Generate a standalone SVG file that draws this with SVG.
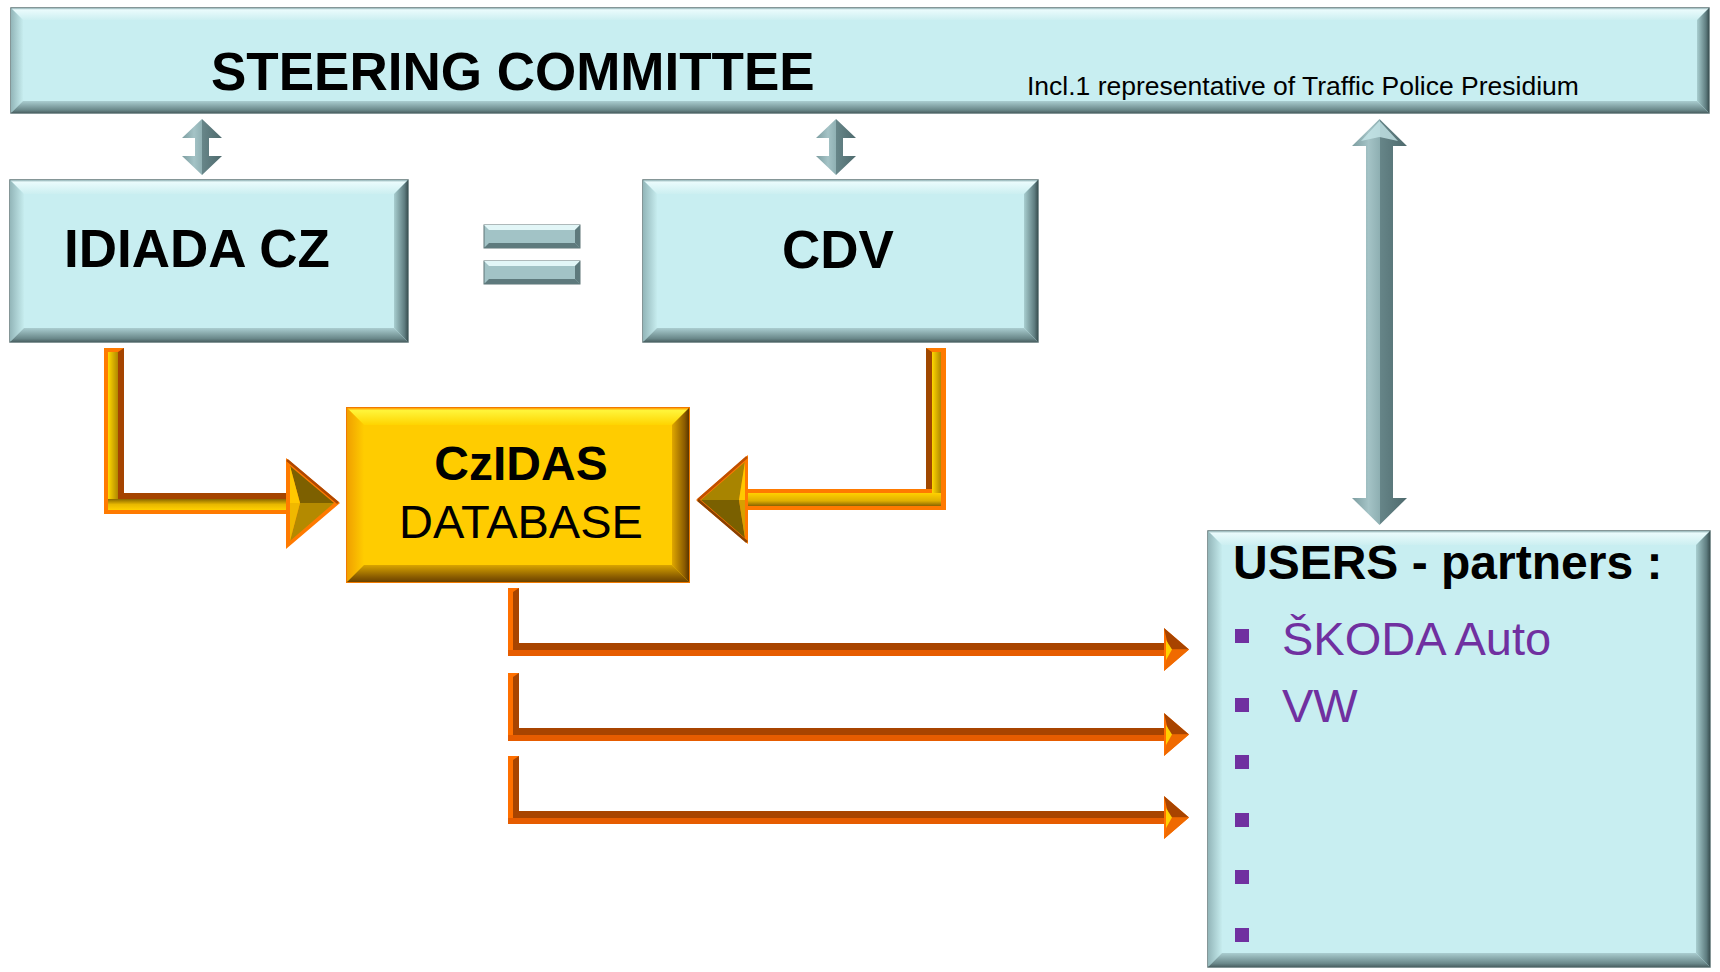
<svg xmlns="http://www.w3.org/2000/svg" xmlns:xlink="http://www.w3.org/1999/xlink" width="1720" height="972" viewBox="0 0 1720 972">
<style>
  .t { font-family: "Liberation Sans", Arial, sans-serif; fill: #000; }
  .b { font-weight: bold; }
  .purple { fill: #7030A0; }
  .cbase { fill: #C8EEF1; stroke: #5E7476; stroke-width: 1.5; }
  .ct { fill: url(#cyanTop); }
  .cl { fill: url(#cyanLeft); }
  .cr { fill: url(#cyanRight); }
  .cb { fill: url(#cyanBot); }
  .ybase { fill: #FFCC00; stroke: #F07A00; stroke-width: 2; }
  .yt { fill: url(#yTop); }
  .yl { fill: url(#yLeft); }
  .yr { fill: url(#yRight); }
  .yb { fill: url(#yBot); }
  .steel { fill: url(#steel); }
  .bul { fill: #7030A0; }
</style>
<defs>
  <linearGradient id="cyanTop" x1="0" y1="0" x2="0" y2="1">
    <stop offset="0" stop-color="#8FB0B3"/>
    <stop offset="0.15" stop-color="#EAFBFC"/>
    <stop offset="1" stop-color="#CCEFF1"/>
  </linearGradient>
  <linearGradient id="cyanLeft" x1="0" y1="0" x2="1" y2="0">
    <stop offset="0" stop-color="#93B6B9"/>
    <stop offset="1" stop-color="#C6ECEE"/>
  </linearGradient>
  <linearGradient id="cyanRight" x1="0" y1="0" x2="1" y2="0">
    <stop offset="0" stop-color="#A8CED0"/>
    <stop offset="0.75" stop-color="#5E7C7F"/>
    <stop offset="1" stop-color="#3A5052"/>
  </linearGradient>
  <linearGradient id="cyanBot" x1="0" y1="0" x2="0" y2="1">
    <stop offset="0" stop-color="#AACDD0"/>
    <stop offset="0.75" stop-color="#6A888A"/>
    <stop offset="1" stop-color="#4A6062"/>
  </linearGradient>
  <linearGradient id="yTop" x1="0" y1="0" x2="0" y2="1">
    <stop offset="0" stop-color="#FF9A00"/>
    <stop offset="0.15" stop-color="#FFF53A"/>
    <stop offset="1" stop-color="#FFD400"/>
  </linearGradient>
  <linearGradient id="yLeft" x1="0" y1="0" x2="1" y2="0">
    <stop offset="0" stop-color="#F0A000"/>
    <stop offset="1" stop-color="#FFCC00"/>
  </linearGradient>
  <linearGradient id="yRight" x1="0" y1="0" x2="1" y2="0">
    <stop offset="0" stop-color="#E0A800"/>
    <stop offset="0.75" stop-color="#8A5A00"/>
    <stop offset="1" stop-color="#5A3600"/>
  </linearGradient>
  <linearGradient id="yBot" x1="0" y1="0" x2="0" y2="1">
    <stop offset="0" stop-color="#D8A400"/>
    <stop offset="0.7" stop-color="#8A5C00"/>
    <stop offset="1" stop-color="#6A4200"/>
  </linearGradient>
  <linearGradient id="steel" x1="0" y1="0" x2="1" y2="0">
    <stop offset="0" stop-color="#7C9DA0"/>
    <stop offset="0.3" stop-color="#A4C3C6"/>
    <stop offset="0.5" stop-color="#8FB0B3"/>
    <stop offset="0.5" stop-color="#678689"/>
    <stop offset="1" stop-color="#4E6A6D"/>
  </linearGradient>
  <linearGradient id="goldV" x1="0" y1="0" x2="1" y2="0">
    <stop offset="0" stop-color="#FFD800"/>
    <stop offset="1" stop-color="#B08800"/>
  </linearGradient>
  <linearGradient id="goldH" x1="0" y1="0" x2="0" y2="1">
    <stop offset="0" stop-color="#8A6800"/>
    <stop offset="0.5" stop-color="#E8B800"/>
    <stop offset="1" stop-color="#FFD000"/>
  </linearGradient>
  <linearGradient id="goldH2" x1="0" y1="0" x2="0" y2="1">
    <stop offset="0" stop-color="#FFD000"/>
    <stop offset="0.6" stop-color="#E0B000"/>
    <stop offset="1" stop-color="#8A6400"/>
  </linearGradient>
  <g id="thinArrow">
    <polygon points="508,588 519,588 519,643 1164,643 1164,628 1189,649.5 1164,671 1164,656 508,656" fill="#FF7000"/>
    <polygon points="513,592 519,588 519,643 1164,643 1164,650 513,650" fill="#A84400"/>
    <rect x="508" y="650" width="656" height="6" fill="#E65C00"/>
    <polygon points="1164,628 1189,649.5 1169,649.5" fill="#A84400"/>
    <polygon points="1164,671 1189,649.5 1169,649.5" fill="#F06A00"/>
    <polygon points="1166,640 1172,649.5 1166,660" fill="#FFD000"/>
  </g>
</defs>

<!-- Connectors -->
<g id="connectors">
  <!-- small double arrow steering <-> IDIADA -->
  <polygon class="steel" points="202,119 222,138 209,138 209,156 222,156 202,175 182,156 195,156 195,138 182,138"/>
  <!-- small double arrow steering <-> CDV -->
  <polygon class="steel" points="836,119 856,138 843,138 843,156 856,156 836,175 816,156 829,156 829,138 816,138"/>
  <!-- big double arrow steering <-> users -->
  <polygon class="steel" points="1379.5,119 1407,146 1393,146 1393,498 1407,498 1379.5,525 1352,498 1366,498 1366,146 1352,146"/>
  <polygon points="1379.5,121 1398,141 1379.5,137 1361,141" fill="#C6E6E9" opacity="0.8"/>

  <!-- IDIADA -> CzIDAS (L arrow) -->
  <g id="arrow-idiada">
    <polygon points="104,348 124,348 124,493 286,493 286,458 340,503 286,549 286,514 104,514" fill="#FF7A00"/>
    <polygon points="118,352 124,348 124,493 286,493 286,499 118,499" fill="#A54400"/>
    <rect x="108" y="352" width="10" height="154" fill="url(#goldV)"/>
    <rect x="108" y="499" width="178" height="11" fill="url(#goldH)"/>
    <polygon points="290,466 334,503 300,503" fill="#7D6000"/>
    <polygon points="290,466 300,503 290,503" fill="#FFC800"/>
    <polygon points="290,541 334,503 300,503" fill="#B48A00"/>
    <polygon points="290,541 300,503 290,503" fill="#F0B800"/>
    <line x1="287" y1="460" x2="338" y2="503" stroke="#B04800" stroke-width="2.5"/>
  </g>

  <!-- CDV -> CzIDAS (L arrow) -->
  <g id="arrow-cdv">
    <polygon points="926,348 946,348 946,510 748,510 748,544 696,500 748,455 748,489 926,489" fill="#FF7A00"/>
    <polygon points="926,348 932,352 932,489 926,489" fill="#A04800"/>
    <rect x="932" y="352" width="9" height="154" fill="url(#goldV)"/>
    <rect x="748" y="493" width="193" height="13" fill="url(#goldH2)"/>
    <polygon points="745,462 701,500 739,500" fill="#A88400"/>
    <polygon points="745,462 739,500 745,500" fill="#FFC800"/>
    <polygon points="745,538 701,500 739,500" fill="#7A6000"/>
    <polygon points="745,538 739,500 745,500" fill="#D8A000"/>
    <line x1="747" y1="457" x2="698" y2="500" stroke="#C05000" stroke-width="2.5"/>
    <line x1="698" y1="500" x2="747" y2="542" stroke="#8A4000" stroke-width="2.5"/>
  </g>

  <!-- CzIDAS -> users (three arrows) -->
  <use xlink:href="#thinArrow" href="#thinArrow"/>
  <use xlink:href="#thinArrow" href="#thinArrow" transform="translate(0,85)"/>
  <use xlink:href="#thinArrow" href="#thinArrow" transform="translate(0,168)"/>
</g>

<!-- Steering committee -->
<g id="node-steering">
  <rect class="cbase" x="11" y="8" width="1698" height="105"/>
  <polygon class="ct" points="11,8 1709,8 1697,20 23,20"/>
  <polygon class="cl" points="11,8 23,20 23,101 11,113"/>
  <polygon class="cr" points="1709,8 1709,113 1697,101 1697,20"/>
  <polygon class="cb" points="11,113 23,101 1697,101 1709,113"/>
  <text class="t b" x="211" y="90" font-size="53">STEERING COMMITTEE</text>
  <text class="t" x="1027" y="95" font-size="26.5">Incl.1 representative of Traffic Police Presidium</text>
</g>

<!-- IDIADA CZ -->
<g id="node-idiada">
  <rect class="cbase" x="10" y="180" width="398" height="162"/>
  <polygon class="ct" points="10,180 408,180 394,194 24,194"/>
  <polygon class="cl" points="10,180 24,194 24,328 10,342"/>
  <polygon class="cr" points="408,180 408,342 394,328 394,194"/>
  <polygon class="cb" points="10,342 24,328 394,328 408,342"/>
  <text class="t b" x="64" y="267" font-size="53">IDIADA CZ</text>
</g>

<!-- equals sign -->
<g id="equals">
  <rect x="484" y="225" width="96" height="23" fill="#A2C3C6" stroke="#5E7476" stroke-width="1"/>
  <polygon points="484,225 580,225 575,230 489,230" fill="#E2F6F7"/>
  <polygon points="484,248 489,243 575,243 580,248" fill="#5E7A7D"/>
  <polygon points="580,225 580,248 575,243 575,230" fill="#5E7A7D"/>
  <rect x="484" y="261" width="96" height="23" fill="#A2C3C6" stroke="#5E7476" stroke-width="1"/>
  <polygon points="484,261 580,261 575,266 489,266" fill="#E2F6F7"/>
  <polygon points="484,284 489,279 575,279 580,284" fill="#5E7A7D"/>
  <polygon points="580,261 580,284 575,279 575,266" fill="#5E7A7D"/>
</g>

<!-- CDV -->
<g id="node-cdv">
  <rect class="cbase" x="643" y="180" width="395" height="162"/>
  <polygon class="ct" points="643,180 1038,180 1024,194 657,194"/>
  <polygon class="cl" points="643,180 657,194 657,328 643,342"/>
  <polygon class="cr" points="1038,180 1038,342 1024,328 1024,194"/>
  <polygon class="cb" points="643,342 657,328 1024,328 1038,342"/>
  <text class="t b" x="838" y="268" font-size="53" text-anchor="middle">CDV</text>
</g>

<!-- CzIDAS DATABASE -->
<g id="node-czidas">
  <rect class="ybase" x="347" y="408" width="342" height="174"/>
  <polygon class="yt" points="347,408 689,408 672,425 364,425"/>
  <polygon class="yl" points="347,408 364,425 364,565 347,582"/>
  <polygon class="yr" points="689,408 689,582 672,565 672,425"/>
  <polygon class="yb" points="347,582 364,565 672,565 689,582"/>
  <text class="t b" x="521" y="480" font-size="48" text-anchor="middle">CzIDAS</text>
  <text class="t" x="521" y="538" font-size="47" text-anchor="middle">DATABASE</text>
</g>

<!-- USERS - partners -->
<g id="node-users">
  <rect class="cbase" x="1208" y="531" width="502" height="436"/>
  <polygon class="ct" points="1208,531 1710,531 1696,545 1222,545"/>
  <polygon class="cl" points="1208,531 1222,545 1222,953 1208,967"/>
  <polygon class="cr" points="1710,531 1710,967 1696,953 1696,545"/>
  <polygon class="cb" points="1208,967 1222,953 1696,953 1710,967"/>
  <text class="t b" x="1233" y="579" font-size="48">USERS - partners :</text>
  <rect class="bul" x="1235" y="629" width="14" height="14"/>
  <text class="t purple" x="1282" y="655" font-size="47">ŠKODA Auto</text>
  <rect class="bul" x="1235" y="698" width="14" height="14"/>
  <text class="t purple" x="1282" y="722" font-size="47">VW</text>
  <rect class="bul" x="1235" y="755" width="14" height="14"/>
  <rect class="bul" x="1235" y="813" width="14" height="14"/>
  <rect class="bul" x="1235" y="870" width="14" height="14"/>
  <rect class="bul" x="1235" y="928" width="14" height="14"/>
</g>
</svg>
